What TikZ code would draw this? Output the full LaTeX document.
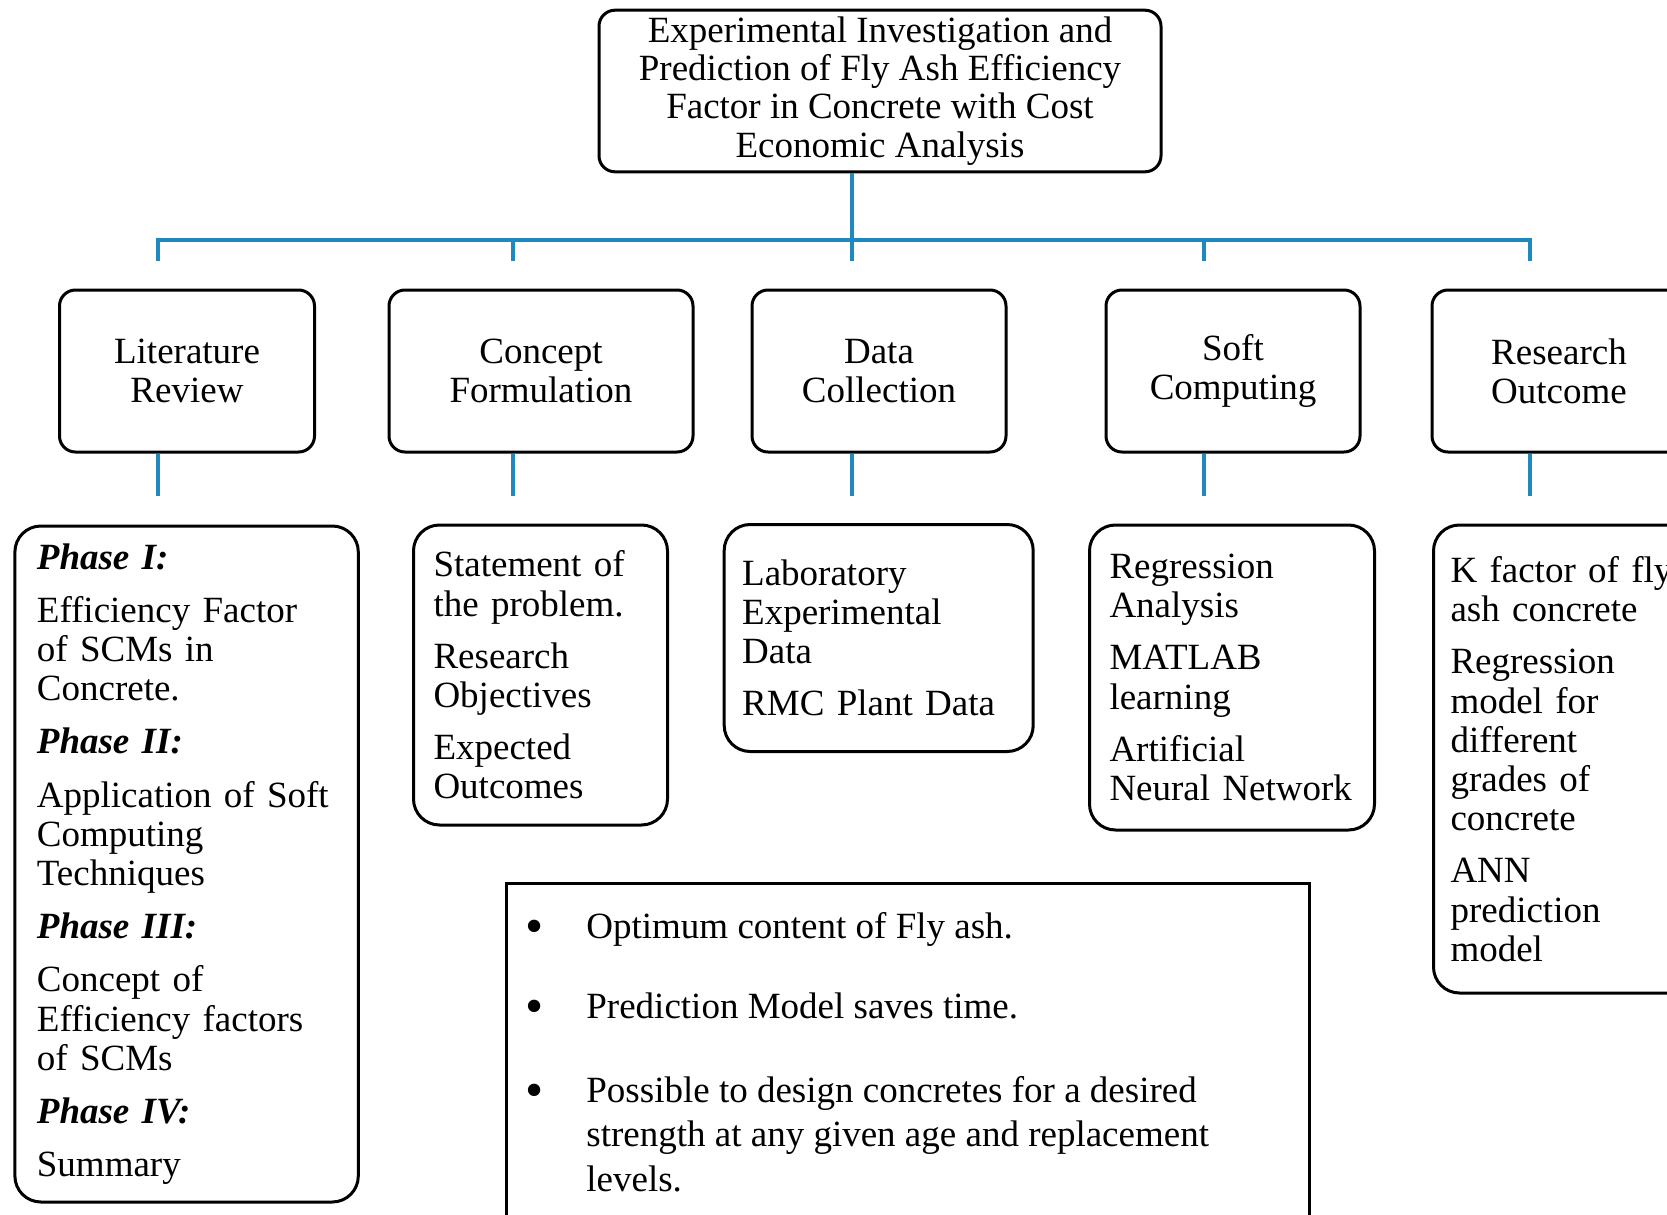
\documentclass[tikz,border=0pt]{standalone}
\usepackage{fontspec}
\setmainfont{Liberation Serif}
\usepackage{tikz}
\definecolor{linkblue}{RGB}{31,137,189}

\begin{document}
\begin{tikzpicture}[x=0.5pt,y=-0.5pt,every node/.style={font=\fontsize{18.5}{19.6}\selectfont},
  title/.style={draw,line width=1.5pt,rounded corners=8pt,align=center,minimum width=281pt,minimum height=80.5pt,font=\fontsize{18.5}{19.1}\selectfont},
  head/.style={draw,line width=1.5pt,rounded corners=8pt,align=center,minimum height=81pt},
  body/.style={draw,line width=1.5pt,rounded corners=13pt,align=left,inner xsep=10pt},
  branch/.style={linkblue,line width=1.6pt}]
\useasboundingbox (0,0) rectangle (1667,1215);
\clip (0,0) rectangle (1667,1215);
\node (title) [title] at (880,91) {Experimental Investigation and\\Prediction of Fly Ash Efficiency\\Factor in Concrete with Cost\\Economic Analysis};
\node (lit) [head,minimum width=127.5pt] at (187,371) {Literature\\Review};
\node (con) [head,minimum width=152pt] at (541,371) {Concept\\Formulation};
\node (dat) [head,minimum width=127pt] at (879,371) {Data\\Collection};
\node (soft) [head,minimum width=127pt] at (1233,371) {Soft\\Computing};
\node (out) [head,minimum width=127pt] at (1559,371) {Research\\Outcome};
\node (phases) [body,inner xsep=11pt,text width=149.7pt,minimum height=338pt] at (186.6,864) {\textbf{\textit{Phase I:}}\\[7pt]Efficiency Factor\\of SCMs in\\Concrete.\\[7pt]\textbf{\textit{Phase II:}}\\[7pt]Application of Soft\\Computing\\Techniques\\[7pt]\textbf{\textit{Phase III:}}\\[7pt]Concept of\\Efficiency factors\\of SCMs\\[7pt]\textbf{\textit{Phase IV:}}\\[7pt]Summary};
\node (conlist) [body,text width=107pt,minimum height=150pt] at (540.5,675) {Statement of\\the problem.\\[6.5pt]Research\\Objectives\\[6.5pt]Expected\\Outcomes};
\node (datlist) [body,inner xsep=9pt,text width=136.5pt,minimum height=113.5pt] at (878.7,638) {Laboratory\\Experimental\\Data\\[6.5pt]RMC Plant Data};
\node (softlist) [body,text width=122.5pt,minimum height=152.5pt] at (1232,677.5) {Regression\\Analysis\\[6.5pt]MATLAB\\learning\\[6.5pt]Artificial\\Neural Network};
\node (outlist) [body,anchor=west,inner xsep=8.5pt,text width=114pt,minimum height=234pt] at (1432,759) {K factor of fly\\ash concrete\\[6.5pt]Regression\\model for\\different\\grades of\\concrete\\[6.5pt]ANN\\prediction\\model};
\node (gains) [draw,line width=1.5pt,anchor=north west,minimum width=401.5pt,minimum height=200pt] at (505,882) {};
\node (gainlist) [anchor=base west,inner sep=0pt,font=\fontsize{18.5}{22.3}\selectfont] at (525,938) {\begin{tabular}[t]{@{}p{30.5pt}@{}l@{}}
\raisebox{-2.6pt}{\scalebox{1.4}{\textbullet}} & Optimum content of Fly ash.\\[18pt]
\raisebox{-2.6pt}{\scalebox{1.4}{\textbullet}} & Prediction Model saves time.\\[19.5pt]
\raisebox{-2.6pt}{\scalebox{1.4}{\textbullet}} & Possible to design concretes for a desired\\
 & strength at any given age and replacement\\
 & levels.
\end{tabular}};
\foreach \i/\x in {1/158,2/513,3/852,4/1204,5/1530}{
  \coordinate (up\i) at (\x,240);
  \coordinate (dn\i) at (\x,261);
  \coordinate (lo\i) at (\x,496);
}
\draw[branch] (title.south -| up3) -- (up3);
\draw[branch] (dn1) -- (up1) -- (up5) -- (dn5);
\foreach \i in {2,3,4} \draw[branch] (up\i) -- (dn\i);
\foreach \i/\n in {1/lit,2/con,3/dat,4/soft,5/out} \draw[branch] (\n.south -| up\i) -- (lo\i);
\end{tikzpicture}
\end{document}
